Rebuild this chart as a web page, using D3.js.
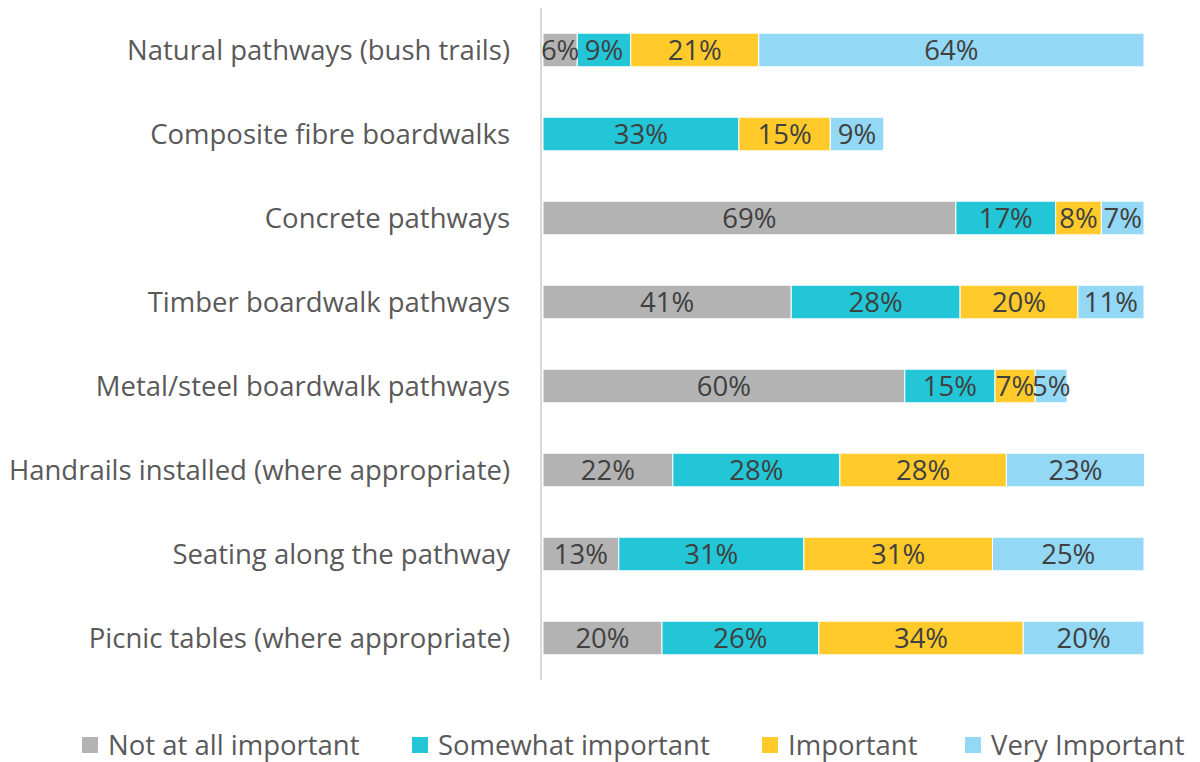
<!DOCTYPE html>
<html>
<head>
<meta charset="utf-8">
<script src="https://cdn.jsdelivr.net/npm/d3@7"></script>
<style>
  body { margin: 0; background: #fff; }
  text { font-family: "Open Sans", "Noto Sans", sans-serif; }
</style>
</head>
<body>
<svg width="1200" height="762"></svg>
<script>
// Categories, top to bottom
let categories = [
  'Natural pathways (bush trails)',
  'Composite fibre boardwalks',
  'Concrete pathways',
  'Timber boardwalk pathways',
  'Metal/steel boardwalk pathways',
  'Handrails installed (where appropriate)',
  'Seating along the pathway',
  'Picnic tables (where appropriate)'
];

let seriesNames = ['Not at all important', 'Somewhat important', 'Important', 'Very Important'];
let seriesColors = ['#b3b3b3', '#22c6d7', '#ffca2a', '#93d8f5'];

// Percent values per series
let notAtAll  = [5.7, 0,    68.7, 41.3, 60.2, 21.6, 12.6, 19.8];
let somewhat  = [8.9, 32.6, 16.6, 28.1, 15.0, 27.8, 30.8, 26.1];
let important = [21.3, 15.2, 7.6, 19.6, 6.7, 27.7, 31.4, 34.0];
let veryImp   = [64.1, 8.9,  7.1, 11.0, 5.3, 23.0, 25.2, 20.1];

let series = [notAtAll, somewhat, important, veryImp];

let svg = d3.select('svg');
let fontSize = 27.5;

let x = d3.scaleLinear().domain([0, 100]).range([543, 1144]);
let y = d3.scaleBand().domain(categories).range([8, 680]).paddingInner(0.6).paddingOuter(0.3);

// Build rows for stacking
let rows = categories.map((c, i) => {
  let r = { cat: c };
  seriesNames.forEach((s, j) => r[s] = series[j][i]);
  return r;
});
let stacked = d3.stack().keys(seriesNames)(rows);

let fmt = v => Math.round(v) + '%';

let groups = svg.selectAll('.series')
  .data(stacked)
  .enter().append('g')
  .attr('class', 'series')
  .attr('fill', (d, i) => seriesColors[i]);

groups.selectAll('rect')
  .data(d => d)
  .enter().append('rect')
  .attr('x', d => x(d[0]))
  .attr('y', d => y(d.data.cat))
  .attr('width', d => Math.max(0, x(d[1]) - x(d[0])))
  .attr('height', y.bandwidth())
  .attr('stroke', '#fff')
  .attr('stroke-width', 1);

// Value labels on top of all bars
let labelG = svg.append('g');
stacked.forEach(s => {
  labelG.selectAll(null)
    .data(s.filter(d => d[1] - d[0] > 0))
    .enter().append('text')
    .attr('x', d => (x(d[0]) + x(d[1])) / 2)
    .attr('y', d => y(d.data.cat) + y.bandwidth() / 2)
    .attr('dy', '0.35em')
    .attr('text-anchor', 'middle')
    .attr('font-size', fontSize)
    .attr('fill', '#404040')
    .text(d => fmt(d[1] - d[0]));
});

// Vertical axis line
svg.append('line')
  .attr('x1', 541).attr('x2', 541)
  .attr('y1', 8).attr('y2', 680)
  .attr('stroke', '#d9d9d9')
  .attr('stroke-width', 2);

// Category labels
svg.append('g').selectAll('text')
  .data(categories)
  .enter().append('text')
  .attr('x', 510)
  .attr('y', d => y(d) + y.bandwidth() / 2)
  .attr('dy', '0.35em')
  .attr('text-anchor', 'end')
  .attr('font-size', fontSize)
  .attr('fill', '#595959')
  .text(d => d);

// Legend
let legendX = [82, 412, 762, 965];
let legend = svg.append('g').selectAll('g')
  .data(seriesNames)
  .enter().append('g')
  .attr('transform', (d, i) => `translate(${legendX[i]},745)`);

legend.append('rect')
  .attr('x', 0).attr('y', -8)
  .attr('width', 16).attr('height', 16)
  .attr('fill', (d, i) => seriesColors[i]);

legend.append('text')
  .attr('x', 26)
  .attr('dy', '0.35em')
  .attr('font-size', fontSize)
  .attr('fill', '#595959')
  .text(d => d);
</script>
</body>
</html>
